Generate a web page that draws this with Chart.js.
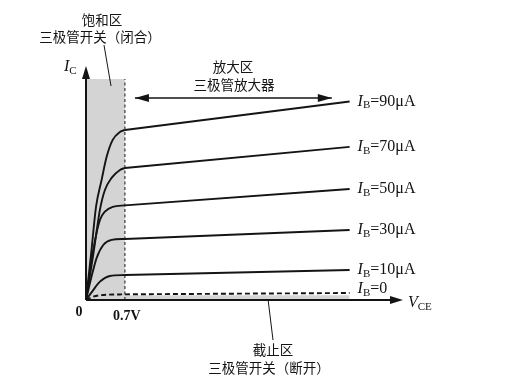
<!DOCTYPE html>
<html><head><meta charset="utf-8">
<script src="https://cdn.jsdelivr.net/npm/chart.js@4/dist/chart.umd.min.js"></script>
<style>html,body{margin:0;padding:0;background:#fff;}canvas{display:block;}</style>
</head><body>
<canvas id="c" width="510" height="382"></canvas>
<script>
// ---- data (VCE in V, IC in mA) ----
const ibLabels = ['90μA', '70μA', '50μA', '30μA', '10μA', '0'];
const curveIB90 = [[0,0],[0.09,2.31],[0.18,4.77],[0.28,6.15],[0.37,7.33],[0.48,8.21],[0.61,8.62],[0.70,8.72],[4.74,10.18]];
const curveIB70 = [[0,0],[0.13,2.31],[0.25,4.62],[0.34,5.64],[0.46,6.26],[0.61,6.67],[0.70,6.77],[4.74,7.85]];
const curveIB50 = [[0,0],[0.13,2.56],[0.25,4.10],[0.34,4.53],[0.48,4.78],[0.70,4.85],[4.74,5.69]];
const curveIB30 = [[0,0],[0.08,0.97],[0.19,2.15],[0.31,2.82],[0.46,3.08],[0.70,3.13],[4.74,3.59]];
const curveIB10 = [[0,0],[0.13,0.51],[0.25,0.94],[0.43,1.23],[0.70,1.28],[4.74,1.54]];
const curveIB0  = [[0,0],[0.13,0.17],[0.31,0.26],[0.70,0.29],[4.74,0.36]];
const saturationVce = 0.7;          // boundary of the saturation region
const saturationTop = 11.33;        // height of the shaded saturation band
const cutoffTop = 0.24;             // height of the shaded cut-off strip
const cutoffEnd = 4.74;
const activeArrow = [0.88, 4.42, 10.36]; // x-from, x-to, y of the 放大区 arrow
const xMax = 5.7, yMax = 12;

const toPts = a => a.map(p => ({x: p[0], y: p[1]}));
const curves = [curveIB90, curveIB70, curveIB50, curveIB30, curveIB10, curveIB0];
const INK = '#141414';
const SHADE = 'rgb(212,212,212)';

const datasets = [];
curves.forEach((c, i) => {
  const knee = c.filter(p => p[0] <= saturationVce);
  const straight = c.filter(p => p[0] >= saturationVce);
  const common = {
    borderColor: INK,
    borderWidth: 1.9,
    borderDash: i === 5 ? [5, 3] : [],
    pointRadius: 0, fill: false, order: 1
  };
  datasets.push(Object.assign({ label: 'IB=' + ibLabels[i], data: toPts(knee), cubicInterpolationMode: 'monotone' }, common));
  datasets.push(Object.assign({ label: 'IB=' + ibLabels[i] + ' active', data: toPts(straight), tension: 0 }, common));
});
datasets.push({
  label: 'saturation',
  data: toPts([[0, saturationTop], [saturationVce, saturationTop]]),
  borderWidth: 0, borderColor: 'rgba(0,0,0,0)', pointRadius: 0,
  fill: 'origin', backgroundColor: SHADE, order: 20
});
datasets.push({
  label: 'cutoff',
  data: toPts([[saturationVce, cutoffTop], [cutoffEnd, cutoffTop]]),
  borderWidth: 0, borderColor: 'rgba(0,0,0,0)', pointRadius: 0,
  fill: 'origin', backgroundColor: SHADE, order: 20
});
datasets.push({
  label: 'boundary',
  data: toPts([[saturationVce, 0], [saturationVce, saturationTop]]),
  borderColor: INK, borderWidth: 1, borderDash: [3, 2.5], pointRadius: 0,
  fill: false, order: 5
});
datasets.push({
  label: 'activeArrow',
  data: toPts([[activeArrow[0], activeArrow[2]], [activeArrow[1], activeArrow[2]]]),
  borderColor: INK, borderWidth: 1.5, pointRadius: 0, fill: false, order: 5
});

function head(ctx, x, y, dir, len, hw) {
  ctx.beginPath();
  if (dir === 'up') { ctx.moveTo(x, y); ctx.lineTo(x - hw, y + len); ctx.lineTo(x + hw, y + len); }
  if (dir === 'right') { ctx.moveTo(x, y); ctx.lineTo(x - len, y - hw); ctx.lineTo(x - len, y + hw); }
  if (dir === 'left') { ctx.moveTo(x, y); ctx.lineTo(x + len, y - hw); ctx.lineTo(x + len, y + hw); }
  ctx.closePath(); ctx.fill();
}

const SERIF = '"Liberation Serif", "DejaVu Serif", serif';
const CJK = '"Noto Sans CJK SC", "Noto Sans", sans-serif';

function subLabel(ctx, x, y, main, sub, rest, size) {
  ctx.textBaseline = 'middle'; ctx.textAlign = 'left';
  ctx.font = 'italic ' + size + 'px ' + SERIF;
  ctx.fillText(main, x, y);
  let w = ctx.measureText(main).width;
  ctx.font = Math.round(size * 0.66) + 'px ' + SERIF;
  ctx.fillText(sub, x + w, y + 4);
  w += ctx.measureText(sub).width;
  if (rest) { ctx.font = size + 'px ' + SERIF; ctx.fillText(rest, x + w, y); }
}

const decor = {
  id: 'decor',
  afterDatasetsDraw(chart) {
    const ctx = chart.ctx, xs = chart.scales.x, ys = chart.scales.y;
    const x0 = xs.getPixelForValue(0), y0 = ys.getPixelForValue(0);
    const xe = xs.getPixelForValue(xMax), ye = ys.getPixelForValue(yMax);
    ctx.save();
    ctx.strokeStyle = INK; ctx.fillStyle = INK; ctx.lineWidth = 2;
    // axes
    ctx.beginPath(); ctx.moveTo(x0, y0); ctx.lineTo(x0, ye + 8); ctx.stroke();
    head(ctx, x0, ye, 'up', 13, 4);
    ctx.beginPath(); ctx.moveTo(x0, y0); ctx.lineTo(xe - 8, y0); ctx.stroke();
    head(ctx, xe, y0, 'right', 13, 4);
    // active region double arrow heads
    const ay = ys.getPixelForValue(activeArrow[2]);
    head(ctx, xs.getPixelForValue(activeArrow[0]), ay, 'left', 14, 4);
    head(ctx, xs.getPixelForValue(activeArrow[1]), ay, 'right', 14, 4);
    // leader lines
    ctx.lineWidth = 1;
    ctx.beginPath(); ctx.moveTo(104, 45); ctx.lineTo(111, 86); ctx.stroke();
    ctx.beginPath(); ctx.moveTo(268, 299); ctx.lineTo(273, 340); ctx.stroke();
    // axis labels
    ctx.fillStyle = INK;
    subLabel(ctx, 64, 67, 'I', 'C', '', 16);
    subLabel(ctx, 408, 303, 'V', 'CE', '', 16);
    ctx.font = 'bold 14px ' + SERIF; ctx.textAlign = 'center'; ctx.textBaseline = 'middle';
    ctx.fillText('0', 79, 312);
    ctx.fillText('0.7V', xs.getPixelForValue(saturationVce) + 2, 316);
    // IB labels at curve ends
    curves.forEach((c, i) => {
      const last = c[c.length - 1];
      const px = xs.getPixelForValue(last[0]) + 8;
      const py = ys.getPixelForValue(last[1]) + (i === 5 ? -4 : 0);
      subLabel(ctx, px, py, 'I', 'B', '=' + ibLabels[i], 16);
    });
    // region annotations
    ctx.font = '13.5px ' + CJK; ctx.textAlign = 'center'; ctx.textBaseline = 'middle';
    ctx.fillText('饱和区', 102, 20);
    ctx.fillText('三极管开关（闭合）', 100, 37);
    ctx.fillText('放大区', 233, 67);
    ctx.fillText('三极管放大器', 234, 85);
    ctx.fillText('截止区', 273, 350);
    ctx.fillText('三极管开关（断开）', 269, 368);
    ctx.restore();
  }
};

new Chart(document.getElementById('c'), {
  type: 'line',
  data: { datasets },
  options: {
    responsive: false, animation: false, devicePixelRatio: 1,
    layout: { padding: { left: 86, right: 107, top: 66, bottom: 82 } },
    plugins: { legend: { display: false }, tooltip: { enabled: false } },
    scales: {
      x: { type: 'linear', min: 0, max: xMax, display: false },
      y: { type: 'linear', min: 0, max: yMax, display: false }
    }
  },
  plugins: [decor]
});
</script>
</body></html>
